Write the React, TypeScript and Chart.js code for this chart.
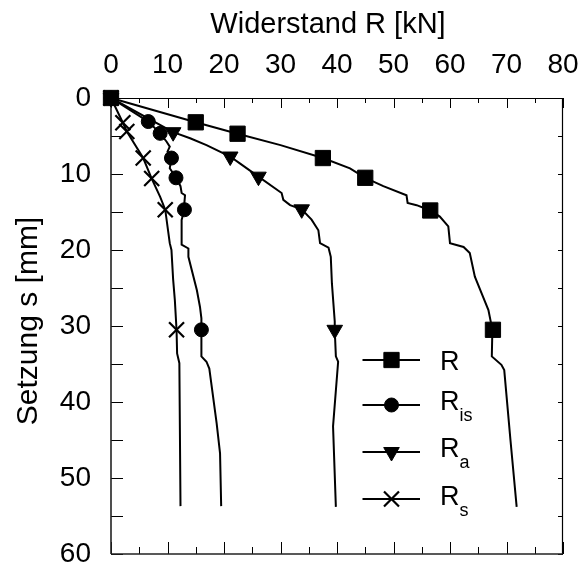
import React, { useEffect, useRef } from "react";
import { Chart, registerables } from "chart.js";
import { drawPoint } from "chart.js/helpers";

Chart.register(...registerables);

const FONT = "'Liberation Sans', Arial, Helvetica, sans-serif";

// ---- data (x = Widerstand R [kN], y = Setzung s [mm]) ----
const rCurveX = [0, 15, 22.4, 30, 37.5, 42.3, 45, 48.2, 52.3, 52.5, 54.1, 56.5, 58.2, 59.7, 60, 62.4, 63.5, 64.4, 65.6, 66.8, 67.5, 67.4, 69.1, 69.6, 70.7, 71.8];
const rCurveY = [0, 3.2, 4.7, 6.2, 7.9, 9.25, 10.5, 11.6, 12.8, 13.8, 14.1, 14.8, 15.6, 16.9, 19.1, 19.6, 20.4, 23.5, 25.7, 27.9, 30.5, 34, 35.1, 35.8, 45, 53.8];
const rMarkX = [0, 15, 22.4, 37.5, 45, 56.5, 67.6];
const rMarkY = [0, 3.2, 4.7, 7.9, 10.5, 14.8, 30.5];

const isCurveX = [0, 6.6, 8.7, 9.85, 10.4, 10.0, 10.7, 10.4, 11, 11.5, 12.3, 12.5, 13.1, 13.0, 13.0, 12.5, 12.5, 13.7, 13.7, 15.2, 15.75, 16, 16, 16, 16.9, 17.4, 18.7, 19.3, 19.5];
const isCurveY = [0, 3.1, 4.65, 5.75, 6.4, 7.06, 7.9, 9.25, 9.9, 10.5, 11.6, 12.5, 12.8, 13.7, 14.7, 16.05, 19.3, 19.8, 20.9, 25.3, 27.5, 29, 30.5, 34, 34.7, 35.6, 42.8, 46.75, 53.7];
const isMarkX = [0, 6.6, 8.7, 10.7, 11.5, 13.0, 16.0];
const isMarkY = [0, 3.1, 4.65, 7.9, 10.5, 14.7, 30.5];

const aCurveX = [0, 11, 14, 16.9, 21.1, 22.8, 26.1, 30.2, 30.5, 31.7, 33.75, 35.5, 36.7, 37, 38.5, 38.9, 39.1, 39.6, 39.6, 39.8, 40.2, 39.3, 39.8];
const aCurveY = [0, 4.5, 5.3, 6.2, 7.7, 8.6, 10.35, 12.5, 13.4, 14.1, 14.65, 16.0, 17.4, 19.1, 19.7, 20.9, 24.4, 29.4, 30.5, 34, 34.7, 43.2, 53.8];
const aMarkX = [0, 11, 21.1, 26.1, 33.75, 39.6];
const aMarkY = [0, 4.5, 7.7, 10.35, 14.65, 30.5];

const sCurveX = [0, 2.1, 2.8, 5.7, 7.2, 8.7, 9.6, 10.4, 10.7, 11, 11.3, 11.6, 11.7, 12.1, 12.3];
const sCurveY = [0, 3.25, 4.4, 7.9, 10.6, 13, 14.7, 19.1, 20, 23.9, 26.6, 30.5, 33.6, 34.9, 53.7];
const sMarkX = [0, 2.1, 2.8, 5.7, 7.2, 9.6, 11.6];
const sMarkY = [0, 3.25, 4.4, 7.9, 10.6, 14.7, 30.5];

const legendMain = ["R", "R", "R", "R"];
const legendSub = ["", "is", "a", "s"];

const xTitle = "Widerstand R [kN]";
const yTitle = "Setzung s [mm]";
const xMin = 0, xMax = 80, xStep = 10, xMinorStep = 5;
const yMin = 0, yMax = 60, yStep = 10, yMinorStep = 5;

const markerStyles = [
  { pointStyle: "rect", radius: 10.8, rotation: 0, borderWidth: 1 },
  { pointStyle: "circle", radius: 7, rotation: 0, borderWidth: 1 },
  { pointStyle: "triangle", radius: 9, rotation: 180, borderWidth: 1 },
  { pointStyle: "crossRot", radius: 10.6, rotation: 0, borderWidth: 2.2 },
];

const zip = (xs: number[], ys: number[]) => xs.map((x, i) => ({ x, y: ys[i] }));

const series = [
  { curve: zip(rCurveX, rCurveY), marks: zip(rMarkX, rMarkY) },
  { curve: zip(isCurveX, isCurveY), marks: zip(isMarkX, isMarkY) },
  { curve: zip(aCurveX, aCurveY), marks: zip(aMarkX, aMarkY) },
  { curve: zip(sCurveX, sCurveY), marks: zip(sMarkX, sMarkY) },
];

const boxPlugin = {
  id: "boxTicks",
  beforeDatasetsDraw(chart: any) {
    const { ctx, chartArea: a, scales } = chart;
    const x = scales.x, y = scales.y;
    ctx.save();
    ctx.strokeStyle = "#000";
    ctx.lineWidth = 1;
    const seg = (x1: number, y1: number, x2: number, y2: number) => {
      ctx.beginPath();
      ctx.moveTo(x1, y1);
      ctx.lineTo(x2, y2);
      ctx.stroke();
    };
    for (let v = xMin; v <= xMax; v += xMinorStep) {
      const px = Math.round(x.getPixelForValue(v)) + 0.5;
      const major = v % xStep === 0;
      seg(px, a.top, px, a.top + (major ? 10 : 5));
      seg(px, a.bottom, px, a.bottom - (major ? 12 : 7));
    }
    for (let v = yMin; v <= yMax; v += yMinorStep) {
      const py = Math.round(y.getPixelForValue(v)) + 0.5;
      seg(a.left, py, a.left + 12, py);
      seg(a.right, py, a.right - 5, py);
    }
    // frame
    ctx.lineWidth = 1.2;
    seg(a.left, a.top + 0.5, a.right, a.top + 0.5);
    seg(a.right - 0.5, a.top, a.right - 0.5, a.bottom);
    ctx.strokeStyle = "#222";
    ctx.lineWidth = 1.6;
    seg(a.left, a.top, a.left, a.bottom);
    seg(a.left, a.bottom, a.right, a.bottom);
    ctx.restore();
  },
};

const overlayPlugin = {
  id: "overlay",
  afterDraw(chart: any) {
    const { ctx, chartArea: a } = chart;
    ctx.save();
    ctx.fillStyle = "#000";
    // axis titles
    ctx.font = `29px ${FONT}`;
    ctx.textAlign = "center";
    ctx.textBaseline = "alphabetic";
    ctx.fillText(xTitle, (a.left + a.right) / 2 - 9, 32.5);
    ctx.save();
    ctx.translate(37, (a.top + a.bottom) / 2 - 5);
    ctx.rotate(-Math.PI / 2);
    ctx.font = `30px ${FONT}`;
    ctx.fillText(yTitle, 0, 0);
    ctx.restore();

    // legend
    const rows = [360, 405, 452, 499];
    const textBase = [369.5, 409.5, 457, 505];
    const lx1 = 362.5, lx2 = 420, mx = 391.5;
    rows.forEach((ry, i) => {
      ctx.strokeStyle = "#000";
      ctx.lineWidth = 2;
      ctx.beginPath();
      ctx.moveTo(lx1, ry);
      ctx.lineTo(lx2, ry);
      ctx.stroke();
      const m = markerStyles[i];
      ctx.fillStyle = "#000";
      ctx.strokeStyle = "#000";
      ctx.lineWidth = m.borderWidth;
      drawPoint(ctx, m as any, mx, ry);
      ctx.fillStyle = "#000";
      ctx.textAlign = "left";
      ctx.textBaseline = "alphabetic";
      ctx.font = `27px ${FONT}`;
      ctx.fillText(legendMain[i], 440, textBase[i]);
      if (legendSub[i]) {
        ctx.font = `18px ${FONT}`;
        ctx.fillText(legendSub[i], 459.5, textBase[i] + 11);
      }
    });
    ctx.restore();
  },
};

export default function App() {
  const ref = useRef<HTMLCanvasElement | null>(null);
  useEffect(() => {
    if (!ref.current) return;
    const datasets: any[] = [];
    series.forEach((s, i) => {
      const m = markerStyles[i];
      datasets.push({
        data: s.marks,
        showLine: false,
        pointStyle: m.pointStyle,
        pointRadius: m.radius,
        pointRotation: m.rotation,
        pointBorderWidth: m.borderWidth,
        pointBackgroundColor: "#000",
        pointBorderColor: "#000",
        clip: false,
      });
      datasets.push({
        data: s.curve,
        showLine: true,
        borderColor: "#000",
        borderWidth: 2,
        tension: 0,
        pointRadius: 0,
        fill: false,
        clip: false,
      });
    });
    const chart = new Chart(ref.current, {
      type: "scatter",
      data: { datasets },
      options: {
        responsive: false,
        animation: false,
        devicePixelRatio: 1,
        events: [],
        layout: { padding: { left: 0, top: 0, right: 25, bottom: 14 } },
        plugins: { legend: { display: false }, tooltip: { enabled: false } },
        scales: {
          x: {
            type: "linear",
            position: "top",
            min: xMin,
            max: xMax,
            ticks: { stepSize: xStep, font: { family: FONT, size: 28 }, color: "#000", padding: 16, maxRotation: 0, autoSkip: false },
            grid: { display: false, drawTicks: false },
            border: { display: false },
            afterFit(s: any) {
              s.height = 98;
              s.paddingLeft = 0;
              s.paddingRight = 0;
            },
          },
          y: {
            type: "linear",
            position: "left",
            reverse: true,
            min: yMin,
            max: yMax,
            ticks: { stepSize: yStep, font: { family: FONT, size: 28 }, color: "#000", padding: 20, autoSkip: false },
            grid: { display: false, drawTicks: false },
            border: { display: false },
            afterFit(s: any) {
              s.width = 111;
              s.paddingTop = 0;
              s.paddingBottom = 0;
            },
          },
        },
      } as any,
      plugins: [boxPlugin, overlayPlugin],
    });
    return () => chart.destroy();
  }, []);
  return (
    <canvas
      ref={ref}
      width={588}
      height={568}
      style={{ position: "fixed", left: 0, top: 0, width: 588, height: 568, background: "#fff" }}
    />
  );
}
